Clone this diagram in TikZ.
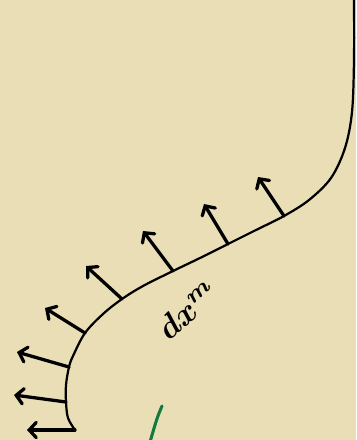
\documentclass[tikz,border=0pt]{standalone}
\usepackage{amsmath}
\usepackage{xcolor}
\usepackage{tikz}
\usetikzlibrary{arrows.meta, calc}
\definecolor{paper}{RGB}{233,222,181}
\definecolor{penGreen}{RGB}{18,122,62}
\tikzstyle{surface} = [line width=1.9pt, line cap=round, line join=round]
\tikzstyle{normalarrow} = [line width=2.8pt, line cap=round, -{Straight Barb[length=6pt,width=13pt,line cap=round]}]

\begin{document}
\begin{tikzpicture}[x=0.03cm, y=-0.03cm]
  \fill[paper] (0,0) rectangle (356,440);
  \useasboundingbox (0,0) rectangle (356,440);

  % points on the surface where the normals start
  \coordinate (b1) at (284,216);
  \coordinate (b2) at (228,244);
  \coordinate (b3) at (173,271);
  \coordinate (b4) at (122,299);
  \coordinate (b5) at (85,333);
  \coordinate (b6) at (69,367);
  \coordinate (b7) at (66,402);
  \coordinate (b8) at (75,430);

  % tips of the normals
  \coordinate (t1) at (258,177);
  \coordinate (t2) at (204,204);
  \coordinate (t3) at (143,231);
  \coordinate (t4) at (86,266);
  \coordinate (t5) at (45,308);
  \coordinate (t6) at (17,352);
  \coordinate (t7) at (14,395);
  \coordinate (t8) at (27,430);

  \draw[surface] plot[smooth, tension=0.55] coordinates {(354,-2) (354,60) (352,112) (345,148) (331,178) (309,200) (b1) (256,230) (b2) (200,258) (b3) (143,286) (b4) (103,314) (b5) (73,356) (b6) (66,385) (b7) (68,418) (b8)};

  \draw[normalarrow] (b1) -- (t1);
  \draw[normalarrow] (b2) -- (t2);
  \draw[normalarrow] (b3) -- (t3);
  \draw[normalarrow] (b4) -- (t4);
  \draw[normalarrow] (b5) -- (t5);
  \draw[normalarrow] (b6) -- (t6);
  \draw[normalarrow] (b7) -- (t7);
  \draw[normalarrow] (b8) -- (t8);

  \node[rotate=42, scale=2.8] (dx) at (188,310) {$\boldsymbol{dx^m}$};

  \draw[penGreen, line width=2.6pt, line cap=round] (162,406) .. controls (157,418) .. (150,442);
\end{tikzpicture}
\end{document}
